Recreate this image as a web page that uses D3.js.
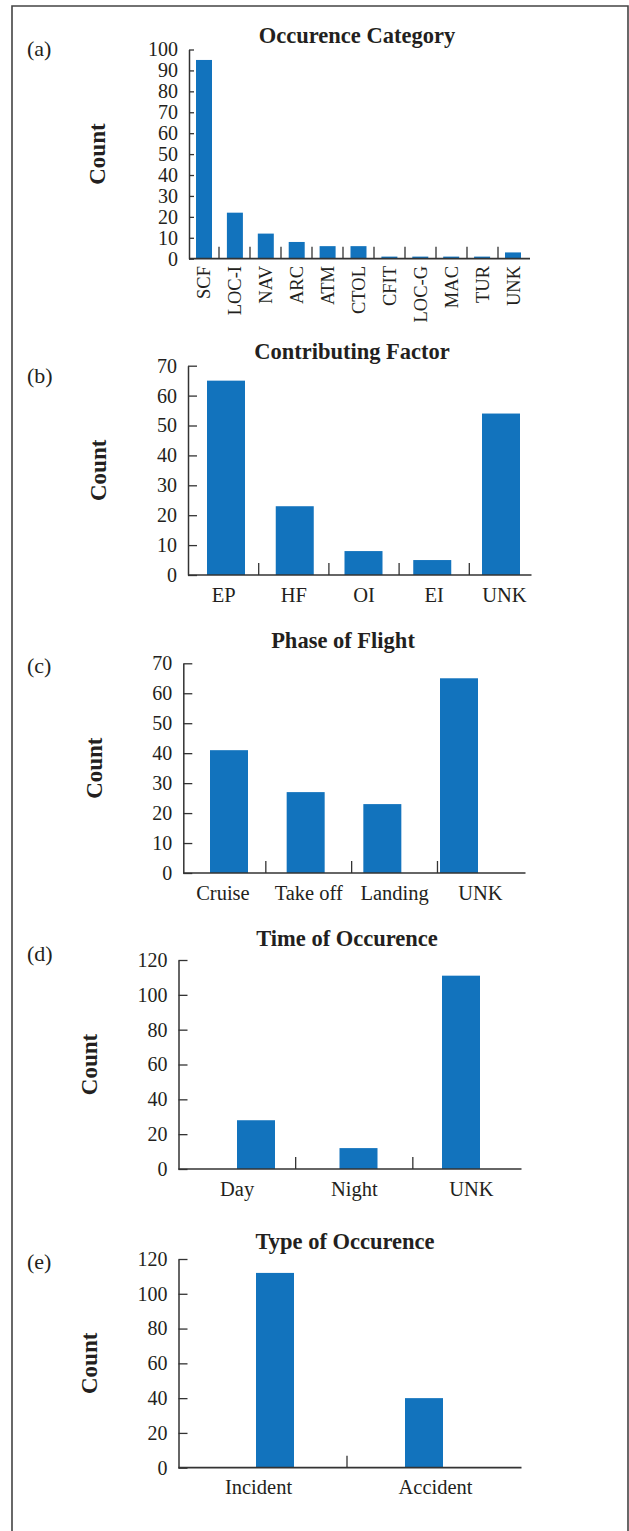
<!DOCTYPE html>
<html>
<head>
<meta charset="utf-8">
<script src="https://cdn.jsdelivr.net/npm/d3@7"></script>
<style>
  body { margin: 0; background: #fff; }
  svg text { font-family: "Liberation Serif", "Times New Roman", serif; fill: #231f20; }
</style>
</head>
<body>
<div id="chart"></div>
<script>
// values
var occCategories = ["SCF", "LOC-I", "NAV", "ARC", "ATM", "CTOL", "CFIT", "LOC-G", "MAC", "TUR", "UNK"];
var occCounts = [95, 22, 12, 8, 6, 6, 1, 1, 1, 1, 3];

var factorCategories = ["EP", "HF", "OI", "EI", "UNK"];
var factorCounts = [65, 23, 8, 5, 54];

var phaseCategories = ["Cruise", "Take off", "Landing", "UNK"];
var phaseCounts = [41, 27, 23, 65];

var timeCategories = ["Day", "Night", "UNK"];
var timeCounts = [28, 12, 111];

var typeCategories = ["Incident", "Accident"];
var typeCounts = [112, 40];

var ticks100 = [0, 10, 20, 30, 40, 50, 60, 70, 80, 90, 100];
var ticks70 = [0, 10, 20, 30, 40, 50, 60, 70];
var ticks120 = [0, 20, 40, 60, 80, 100, 120];

// one entry per sub-figure: data + where it sits on the page
var panels = [
  { tag: "(a)", title: "Occurence Category", cats: occCategories, vals: occCounts, ticks: ticks100,
    yTop: 49.5, yBase: 258.7, axisX: 189, axisEnd: 530, catRange: [188, 529], barRange: [204, 513], barW: 16,
    tickLen: 5, rotate: true, labelY: 266, titleX: 357, titleY: 43, tagY: 56, countX: 97 },
  { tag: "(b)", title: "Contributing Factor", cats: factorCategories, vals: factorCounts, ticks: ticks70,
    yTop: 365.7, yBase: 575, axisX: 188, axisEnd: 531.5, catRange: [188.5, 539.5], barRange: [226, 501], barW: 38,
    tickLen: 9, rotate: false, labelY: 602, titleX: 352, titleY: 359, tagY: 383, countX: 98 },
  { tag: "(c)", title: "Phase of Flight", cats: phaseCategories, vals: phaseCounts, ticks: ticks70,
    yTop: 663.3, yBase: 873, axisX: 183.3, axisEnd: 525.5, catRange: [180, 523.3], barRange: [229, 459], barW: 38,
    tickLen: 9, rotate: false, labelY: 900, titleX: 343, titleY: 648, tagY: 673, countX: 93.6 },
  { tag: "(d)", title: "Time of Occurence", cats: timeCategories, vals: timeCounts, ticks: ticks120,
    yTop: 960, yBase: 1169, axisX: 178.5, axisEnd: 521.5, catRange: [178.5, 530], barRange: [256, 461], barW: 38,
    tickLen: 9, rotate: false, labelY: 1196, titleX: 347, titleY: 946, tagY: 961, countX: 89 },
  { tag: "(e)", title: "Type of Occurence", cats: typeCategories, vals: typeCounts, ticks: ticks120,
    yTop: 1259, yBase: 1467.7, axisX: 178.5, axisEnd: 521.5, catRange: [170, 524], barRange: [275, 424], barW: 38,
    tickLen: 9, rotate: false, labelY: 1494, titleX: 345, titleY: 1249, tagY: 1269, countX: 89 }
];

var svg = d3.select("#chart").append("svg")
  .attr("width", 629)
  .attr("height", 1531);

// outer frame (open at the bottom, the page continues)
svg.append("path")
  .attr("d", "M12,1531V6H628V1531")
  .attr("fill", "none")
  .attr("stroke", "#444")
  .attr("stroke-width", 1.6);

panels.forEach(function(p) {
  var g = svg.append("g");

  var y = d3.scaleLinear()
    .domain([0, p.ticks[p.ticks.length - 1]])
    .range([p.yBase, p.yTop]);

  // category slots (labels + separators) and bar centres
  var xCat = d3.scaleBand().domain(p.cats).range(p.catRange);
  var xBar = d3.scalePoint().domain(p.cats).range(p.barRange);

  g.selectAll("rect")
    .data(p.vals)
    .enter()
    .append("rect")
    .attr("x", (d, i) => xBar(p.cats[i]) - p.barW / 2)
    .attr("y", d => y(d))
    .attr("width", p.barW)
    .attr("height", d => y(0) - y(d))
    .attr("fill", "#1273bd");

  // y axis, ticks pointing inwards
  var yAxis = g.append("g")
    .attr("transform", `translate(${p.axisX},0)`)
    .attr("color", "#333")
    .call(d3.axisLeft(y).tickValues(p.ticks).tickSizeInner(-p.tickLen).tickSizeOuter(0).tickPadding(11));
  yAxis.select(".domain").attr("stroke-width", 1.5);
  yAxis.selectAll(".tick line").attr("stroke-width", 1.3);
  yAxis.selectAll("text").style("font-size", "20px");

  // x axis: labels only, line and separators drawn below
  var xAxis = g.append("g")
    .attr("transform", `translate(0,${p.yBase})`)
    .call(d3.axisBottom(xCat).tickSize(0));
  xAxis.select(".domain").remove();

  if (p.rotate) {
    xAxis.selectAll("text")
      .attr("transform", "rotate(-90)")
      .attr("text-anchor", "end")
      .attr("x", -(p.labelY - p.yBase))
      .attr("y", 0)
      .attr("dy", "0.35em")
      .style("font-size", "18.5px");
  } else {
    xAxis.selectAll("text")
      .attr("y", p.labelY - p.yBase)
      .attr("dy", 0)
      .style("font-size", "20.5px");
  }

  g.append("line")
    .attr("x1", p.axisX)
    .attr("x2", p.axisEnd)
    .attr("y1", p.yBase)
    .attr("y2", p.yBase)
    .attr("stroke", "#333")
    .attr("stroke-width", 1.7);

  g.selectAll(".sep")
    .data(p.cats.slice(1))
    .enter()
    .append("line")
    .attr("class", "sep")
    .attr("x1", d => xCat(d))
    .attr("x2", d => xCat(d))
    .attr("y1", p.yBase)
    .attr("y2", p.yBase - 12)
    .attr("stroke", "#333")
    .attr("stroke-width", 1.3);

  g.append("text")
    .attr("x", p.titleX)
    .attr("y", p.titleY)
    .attr("text-anchor", "middle")
    .style("font-size", "22.5px")
    .style("font-weight", "bold")
    .text(p.title);

  g.append("text")
    .attr("x", 27)
    .attr("y", p.tagY)
    .style("font-size", "22px")
    .text(p.tag);

  g.append("text")
    .attr("transform", `translate(${p.countX},${(p.yBase + p.yTop) / 2}) rotate(-90)`)
    .attr("text-anchor", "middle")
    .attr("dy", "0.35em")
    .style("font-size", "23px")
    .style("font-weight", "bold")
    .text("Count");
});
</script>
</body>
</html>
